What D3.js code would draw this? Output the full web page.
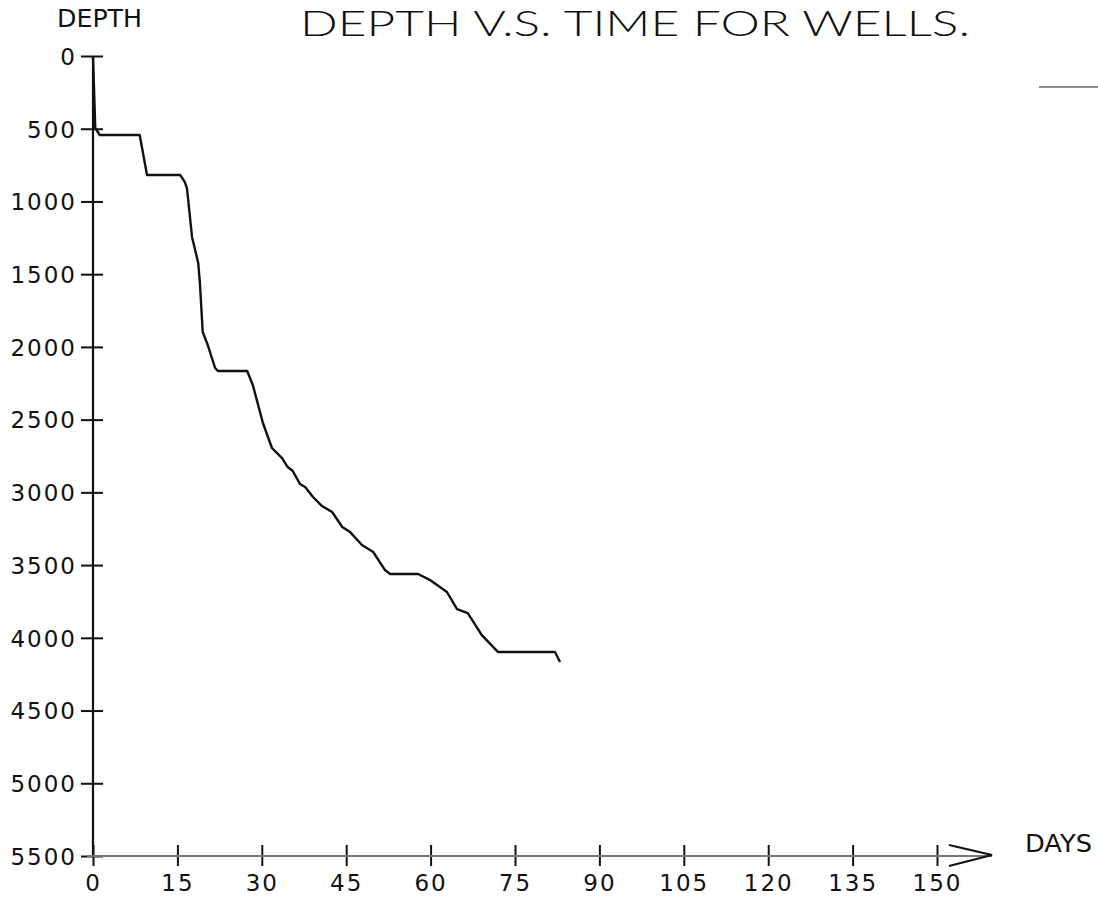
<html>
<head>
    <title>Depth v.s. Time for Wells</title>
    <script src="https://d3js.org/d3.v7.min.js"></script>
    <style>
        body { margin: 0; background: #fff; }
        text { font-family: "DejaVu Sans", sans-serif; fill: #111; }
    </style>
</head>
<body>
    <svg id="chart" width="1098" height="898"></svg>

    <script>
    // well record: day vs depth
    const days   = [0, 0.4, 1.2, 8.3, 9.6, 15.5, 16.3, 16.7, 17.6, 18.7, 19.0, 19.5, 20.4, 21.7, 22.2, 27.4, 28.4, 30.2, 31.8, 33.6, 34.6, 35.5, 36.8, 37.7, 39.1, 40.7, 42.5, 44.3, 45.7, 47.8, 49.8, 51.9, 52.8, 57.8, 59.9, 62.9, 64.7, 66.6, 69.1, 72.0, 82.1, 83.0];
    const depths = [0, 495, 543, 543, 818, 818, 866, 908, 1244, 1423, 1561, 1898, 1987, 2145, 2166, 2166, 2262, 2523, 2695, 2764, 2826, 2853, 2943, 2963, 3032, 3094, 3135, 3238, 3273, 3362, 3410, 3534, 3561, 3561, 3603, 3685, 3802, 3830, 3981, 4098, 4098, 4166];

    const dayTicks   = [0, 15, 30, 45, 60, 75, 90, 105, 120, 135, 150];
    const depthTicks = [0, 500, 1000, 1500, 2000, 2500, 3000, 3500, 4000, 4500, 5000, 5500];

    const svg = d3.select('#chart');

    const x = d3.scaleLinear().domain([0, 150]).range([93, 937]);
    const y = d3.scaleLinear().domain([0, 5500]).range([56, 856]);

    // title
    svg.append('text')
        .attr('x', 300).attr('y', 36)
        .attr('textLength', 670).attr('lengthAdjust', 'spacingAndGlyphs')
        .style('font-family', 'Lato, "DejaVu Sans", sans-serif')
        .style('font-weight', 300)
        .style('font-size', '35px')
        .text('DEPTH V.S. TIME FOR WELLS.');

    svg.append('text')
        .attr('x', 57).attr('y', 27)
        .attr('textLength', 85).attr('lengthAdjust', 'spacingAndGlyphs')
        .style('font-size', '24px')
        .text('DEPTH');

    // y axis (depth grows downwards)
    const yAxis = svg.append('g')
        .attr('transform', `translate(${x(0)},0)`)
        .call(d3.axisLeft(y).tickValues(depthTicks).tickFormat(d3.format('d')).tickSize(12).tickPadding(4));
    yAxis.select('.domain').remove();
    yAxis.append('line')
        .attr('y1', y(0)).attr('y2', y(5500))
        .attr('stroke', '#111').attr('stroke-width', 2.2);
    yAxis.selectAll('.tick line').attr('x2', 10).attr('x1', -12)
        .attr('stroke', '#111').attr('stroke-width', 2);
    yAxis.selectAll('.tick text')
        .attr('dy', '0.36em')
        .style('font-size', '23px')
        .style('letter-spacing', '2px')
        .style('font-family', '"DejaVu Sans", sans-serif')
        .attr('fill', '#111');

    // x axis with arrow
    const axisY = y(5500);
    const xEnd = 992;
    const xAxis = svg.append('g')
        .attr('transform', `translate(0,${axisY})`)
        .call(d3.axisBottom(x).tickValues(dayTicks).tickSize(10).tickPadding(8));
    xAxis.select('.domain').remove();
    xAxis.append('line')
        .attr('x1', x(0) - 6).attr('x2', xEnd)
        .attr('stroke', '#777').attr('stroke-width', 2);
    xAxis.append('path')
        .attr('d', `M${xEnd - 43},-11 L${xEnd},-1 L${xEnd - 43},10`)
        .attr('fill', 'none').attr('stroke', '#111').attr('stroke-width', 2);
    xAxis.selectAll('.tick line').attr('y1', -11).attr('y2', 10)
        .attr('stroke', '#111').attr('stroke-width', 2);
    xAxis.selectAll('.tick text')
        .attr('y', 35).attr('dy', 0)
        .style('font-size', '23px')
        .style('letter-spacing', '2px')
        .style('font-family', '"DejaVu Sans", sans-serif')
        .attr('fill', '#111');

    svg.append('text')
        .attr('x', 1025).attr('y', 852)
        .attr('textLength', 67).attr('lengthAdjust', 'spacingAndGlyphs')
        .style('font-size', '24px')
        .text('DAYS');

    // legend key stub at top right (label is off the page)
    svg.append('line')
        .attr('x1', 1039).attr('x2', 1098).attr('y1', 87).attr('y2', 87)
        .attr('stroke', '#666').attr('stroke-width', 1.5);

    // the well curve
    const line = d3.line()
        .x((d, i) => x(days[i]))
        .y(d => y(d));

    svg.append('path')
        .datum(depths)
        .attr('d', line)
        .attr('fill', 'none')
        .attr('stroke', '#111')
        .attr('stroke-width', 2.4)
        .attr('stroke-linejoin', 'round');
    </script>
</body>
</html>
